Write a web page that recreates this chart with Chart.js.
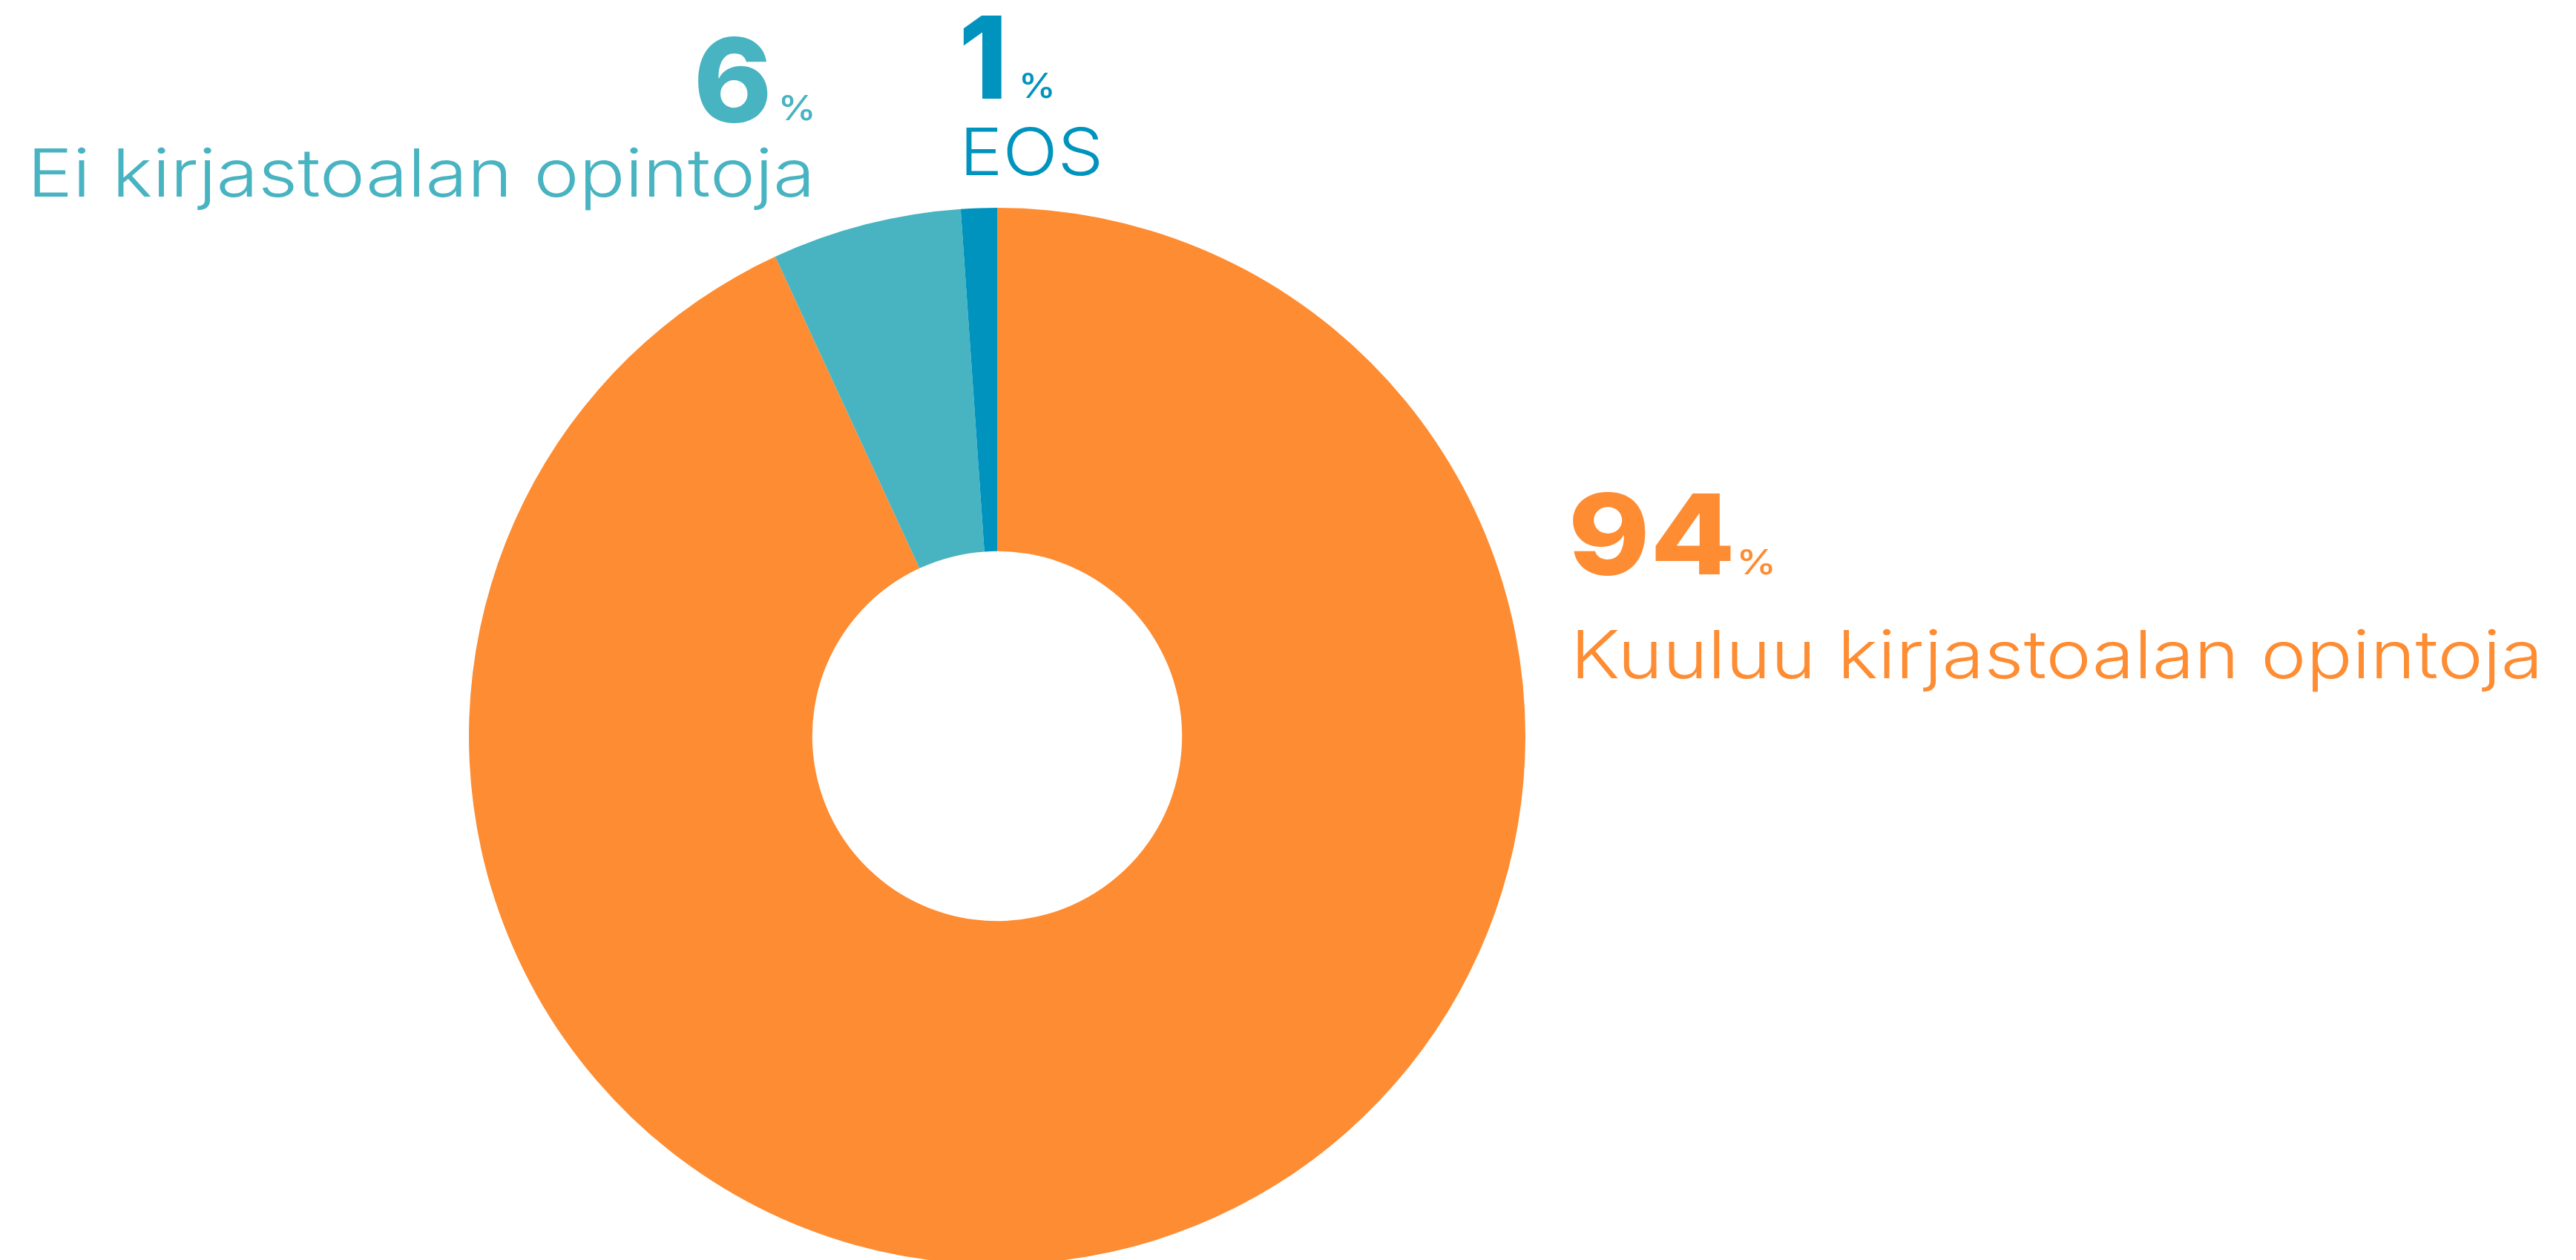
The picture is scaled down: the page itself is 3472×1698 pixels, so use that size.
<!DOCTYPE html>
<html>
<head>
<meta charset="utf-8">
<script src="https://cdn.jsdelivr.net/npm/chart.js@4.4.1/dist/chart.umd.min.js"></script>
<style>
  html, body { margin: 0; padding: 0; background: #ffffff; overflow: hidden; width: 3472px; height: 1698px; }
  #wrap { position: absolute; left: 0; top: 0; width: 3472px; height: 1760px; }
</style>
</head>
<body>
<div id="wrap"><canvas id="c" width="3472" height="1760"></canvas></div>
<script>
// ---- data ----
const categories = ['Kuuluu kirjastoalan opintoja', 'Ei kirjastoalan opintoja', 'EOS'];
const values = [93.1, 5.8, 1.1];
const pctLabels = ['94', '6', '1'];
const colors = ['#FE8C32', '#48B3C1', '#0093BE'];

// ---- label layout (ink boxes in page pixels) ----
const labelBoxes = [
  { num: [2120, 2333, 662, 776], pct: [2346, 2389, 740, 775], text: [2126, 3419, 848, 933] },
  { num: [941, 1035, 49, 166],  pct: [1054, 1095, 128, 163], text: [46, 1090, 199, 284] },
  { num: [1298, 1350, 21, 133], pct: [1378, 1418, 98, 133],  text: [1302, 1482, 172, 237] }
];

function fitInk(ctx, str, font, box, color) {
  ctx.save();
  ctx.font = font;
  ctx.textAlign = 'left';
  ctx.textBaseline = 'alphabetic';
  const m = ctx.measureText(str);
  const inkW = m.actualBoundingBoxLeft + m.actualBoundingBoxRight;
  const inkH = m.actualBoundingBoxAscent + m.actualBoundingBoxDescent;
  const sx = (box[1] - box[0]) / inkW;
  const sy = (box[3] - box[2]) / inkH;
  ctx.translate(box[0], box[2]);
  ctx.scale(sx, sy);
  ctx.fillStyle = color;
  ctx.fillText(str, m.actualBoundingBoxLeft, m.actualBoundingBoxAscent);
  ctx.restore();
}

const labelPlugin = {
  id: 'sliceLabels',
  afterDraw(chart) {
    const ctx = chart.ctx;
    categories.forEach((cat, i) => {
      const b = labelBoxes[i];
      fitInk(ctx, pctLabels[i], '800 155px Inter', b.num, colors[i]);
      fitInk(ctx, '%', '500 48px Inter', b.pct, colors[i]);
      fitInk(ctx, cat, '300 90px Inter', b.text, colors[i]);
    });
  }
};

new Chart(document.getElementById('c'), {
  type: 'doughnut',
  data: {
    labels: categories,
    datasets: [{
      data: values,
      backgroundColor: colors,
      borderWidth: 0,
      hoverOffset: 0
    }]
  },
  options: {
    responsive: false,
    animation: false,
    cutout: '35%',
    layout: { padding: { left: 632, top: 280, right: 1416, bottom: 56 } },
    plugins: {
      legend: { display: false },
      tooltip: { enabled: false }
    }
  },
  plugins: [labelPlugin]
});
</script>
</body>
</html>
